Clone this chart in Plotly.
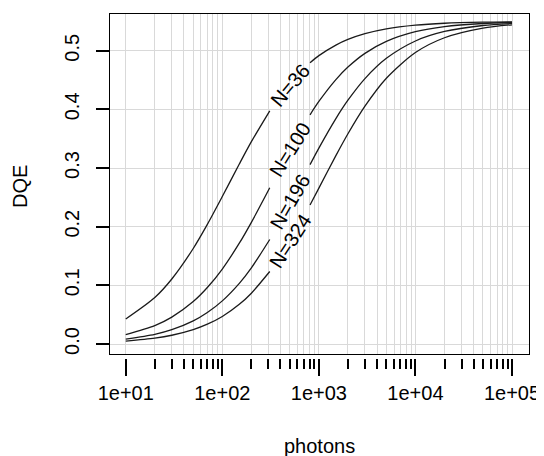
import plotly.graph_objects as go

# ---- data ----
photons = [10, 20, 30, 50, 70, 100, 150, 200, 310, None, 810, 1000, 1500, 2000, 3000, 5000, 10000, 20000, 50000, 100000]

dqe_n36 = [0.0427, 0.0793, 0.1109, 0.1629, 0.2039, 0.2514, 0.3069, 0.3450, 0.3976, None,
           0.4797, 0.4916, 0.5096, 0.5192, 0.5290, 0.5372, 0.5435, 0.5468, 0.5487, 0.5493]
dqe_n100 = [0.0162, 0.0314, 0.0458, 0.0724, 0.0963, 0.1279, 0.1719, 0.2075, 0.2664, None,
            0.3908, 0.4135, 0.4508, 0.4721, 0.4955, 0.5159, 0.5324, 0.5411, 0.5464, 0.5482]
dqe_n196 = [0.0084, 0.0165, 0.0244, 0.0395, 0.0537, 0.0736, 0.1035, 0.1299, 0.1782, None,
            0.3058, 0.3340, 0.3843, 0.4156, 0.4525, 0.4870, 0.5166, 0.5328, 0.5430, 0.5465]
dqe_n324 = [0.0051, 0.0101, 0.0150, 0.0246, 0.0338, 0.0470, 0.0677, 0.0867, 0.1236, None,
            0.2371, 0.2658, 0.3211, 0.3584, 0.4055, 0.4531, 0.4969, 0.5221, 0.5385, 0.5442]

series = [dqe_n36, dqe_n100, dqe_n196, dqe_n324]
series_labels = ["N=36", "N=100", "N=196", "N=324"]

x_tick_vals = [10, 100, 1000, 10000, 100000]
x_tick_text = ["1e+01", "1e+02", "1e+03", "1e+04", "1e+05"]
y_tick_vals = [0.0, 0.1, 0.2, 0.3, 0.4, 0.5]
y_tick_text = ["0.0", "0.1", "0.2", "0.3", "0.4", "0.5"]

# label placement (log10 photons, DQE) and text angle
label_x = [2.706, 2.706, 2.706, 2.702]
label_y = [0.4415, 0.3324, 0.2438, 0.1764]
label_angle = [-50, -58, -60, -57]

FONT = "Liberation Sans, Arial, Helvetica, sans-serif"
FS = 20
minor_vals = [m * d for d in x_tick_vals[:-1] for m in range(2, 10)]

fig = go.Figure()
for ys in series:
    fig.add_trace(go.Scatter(
        x=photons, y=ys, mode="lines",
        line=dict(color="#1a1a1a", width=1.3, shape="spline", smoothing=0.8),
        connectgaps=False, showlegend=False, hoverinfo="skip",
    ))

annotations = []
for txt, lx, ly, ang in zip(series_labels, label_x, label_y, label_angle):
    annotations.append(dict(x=lx, y=ly, xref="x", yref="y", text=txt, showarrow=False,
                            textangle=ang, font=dict(family=FONT, size=FS, color="black")))
annotations.append(dict(x=0.5, y=-0.2558, xref="paper", yref="paper", text="photons",
                        xanchor="center", yanchor="middle",
                        showarrow=False, font=dict(family=FONT, size=FS, color="black")))
annotations.append(dict(x=-0.2148, y=0.5, xref="paper", yref="paper", text="DQE",
                        xanchor="center", yanchor="middle",
                        showarrow=False, textangle=-90,
                        font=dict(family=FONT, size=FS, color="black")))

xr = [0.837, 5.176]
fig.update_layout(
    width=536, height=448,
    margin=dict(l=102, r=15, t=6, b=98, autoexpand=False),
    paper_bgcolor="white", plot_bgcolor="white",
    font=dict(family=FONT, size=FS, color="black"),
    annotations=annotations,
    xaxis=dict(
        type="log", range=xr, anchor="y", automargin=False,
        tickvals=x_tick_vals, showticklabels=False, ticks="",
        showgrid=True, gridcolor="#d9d9d9", gridwidth=1,
        minor=dict(tickvals=minor_vals, showgrid=True, gridcolor="#d9d9d9", gridwidth=1, ticks=""),
        showline=True, mirror=True, linecolor="black", linewidth=1.3, zeroline=False,
    ),
    xaxis2=dict(
        type="log", range=xr, overlaying="x", anchor="free", position=0, automargin=False,
        tickvals=x_tick_vals, ticktext=x_tick_text, ticks="outside", ticklen=17,
        tickwidth=1.8, tickcolor="black",
        minor=dict(tickvals=minor_vals, ticks="outside", ticklen=10, tickwidth=1.6,
                   tickcolor="black", showgrid=False),
        showgrid=False, showline=False, zeroline=False,
        tickfont=dict(family=FONT, size=FS, color="black"),
    ),
    yaxis=dict(
        range=[-0.017, 0.5626], domain=[0.0116, 1], automargin=False,
        tickvals=y_tick_vals, ticktext=y_tick_text, tickangle=-90,
        ticks="outside", ticklen=13, tickwidth=1.8, tickcolor="black",
        ticklabelstandoff=9,
        showgrid=True, gridcolor="#d9d9d9", gridwidth=1,
        showline=True, mirror=True, linecolor="black", linewidth=1.3, zeroline=False,
        tickfont=dict(family=FONT, size=FS, color="black"),
    ),
)
# invisible trace to activate xaxis2
fig.add_trace(go.Scatter(x=[10], y=[None], xaxis="x2", showlegend=False, hoverinfo="skip"))

fig.write_html("out.html")
